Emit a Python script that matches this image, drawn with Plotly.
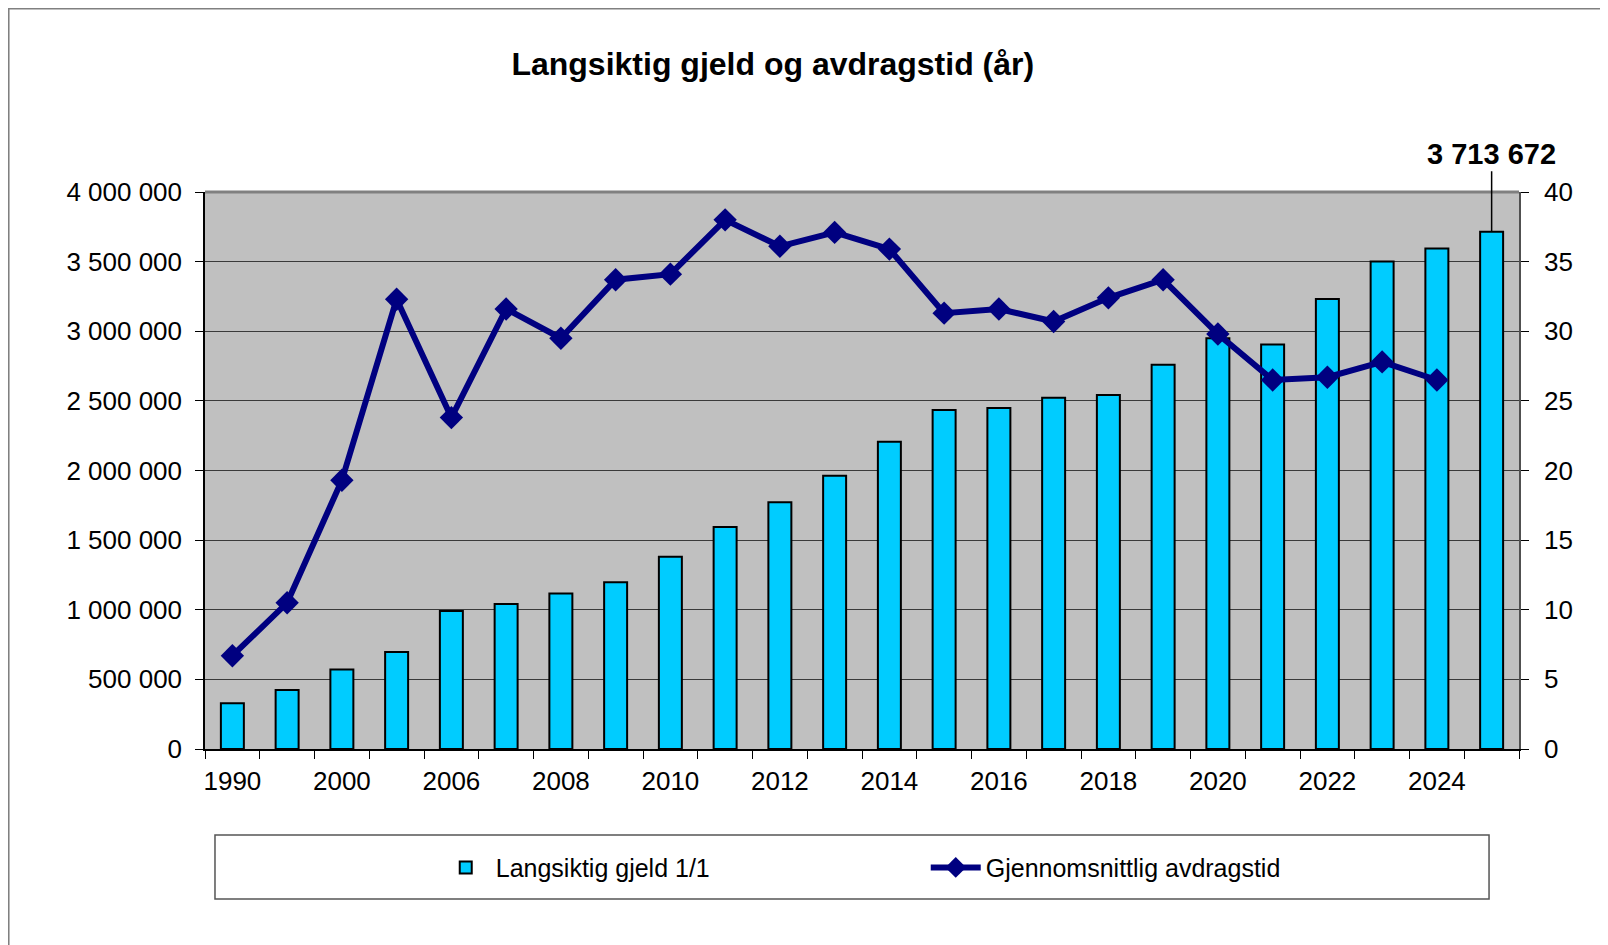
import plotly.graph_objects as go

# kategorier (to av dem har skjult etikett i originalen)
years = ["1990", "1995", "2000", "2005", "2006", "2007", "2008", "2009", "2010",
         "2011", "2012", "2013", "2014", "2015", "2016", "2017", "2018", "2019",
         "2020", "2021", "2022", "2023", "2024", "2025"]

# Langsiktig gjeld 1/1 (kr)
gjeld = [328000, 424000, 571000, 696000, 991000, 1042000, 1116000, 1197000,
         1381000, 1595000, 1772000, 1963000, 2206000, 2435000, 2449000,
         2522000, 2543000, 2759000, 2950000, 2905000, 3231000, 3501000,
         3595000, 3713672]

# Gjennomsnittlig avdragstid (år), ingen verdi for 2025
avdragstid = [6.7, 10.5, 19.3, 32.3, 23.8, 31.6, 29.5, 33.7, 34.1, 38.0, 36.1,
              37.1, 35.9, 31.3, 31.6, 30.7, 32.4, 33.7, 29.8, 26.5, 26.7, 27.8,
              26.5]

# hver andre kategori har etikett
x_labels = [y if i % 2 == 0 else "" for i, y in enumerate(years)]

FONT = "Arial, Liberation Sans, sans-serif"
NAVY = "#000080"

fig = go.Figure()

fig.add_trace(go.Bar(
    x=years,
    y=gjeld,
    name="Langsiktig gjeld 1/1",
    marker=dict(color="#00CCFF", line=dict(color="black", width=2)),
    yaxis="y",
))

fig.add_trace(go.Scatter(
    x=years[:len(avdragstid)],
    y=avdragstid,
    name="Gjennomsnittlig avdragstid",
    mode="lines+markers",
    line=dict(color=NAVY, width=6),
    marker=dict(symbol="diamond", size=18, color=NAVY),
    yaxis="y2",
))

# siste søyle merkes med verdien (kategori-indeks, ellers tolkes "2025" som tall)
last = gjeld[-1]
fig.add_annotation(
    x=len(gjeld) - 1, y=last, xref="x", yref="y",
    text="<b>" + f"{last:,}".replace(",", " ") + "</b>",
    showarrow=True, arrowhead=0, arrowwidth=1.5, arrowcolor="black",
    ax=0, ay=-78,
    font=dict(family=FONT, size=29, color="black"),
)

# ytre ramme, toppkant på plottområdet og legend-boks
fig.add_shape(type="rect", xref="paper", yref="paper",
              x0=-0.1495, x1=1.08, y0=-0.40, y1=1.3294,
              line=dict(color="#808080", width=2), layer="below")
fig.add_shape(type="line", xref="paper", yref="paper",
              x0=0, x1=1, y0=1, y1=1,
              line=dict(color="#808080", width=3))
fig.add_shape(type="rect", xref="paper", yref="paper",
              x0=0.0076, x1=0.9772, y0=-0.2693, y1=-0.1544,
              line=dict(color="#555555", width=1.5))

fig.update_layout(
    width=1600, height=937,
    margin=dict(l=197, r=89, t=184, b=196),
    paper_bgcolor="white",
    plot_bgcolor="#C0C0C0",
    separators=", ",
    font=dict(family=FONT, size=25, color="black"),
    title=dict(text="<b>Langsiktig gjeld og avdragstid (år)</b>",
               font=dict(family=FONT, size=32, color="black"),
               x=0.478, xanchor="center", xref="container",
               y=0.940, yanchor="middle", yref="container"),
    bargap=0.58,
    showlegend=True,
    legend=dict(orientation="h", x=0.1756, xanchor="left",
                y=-0.213, yanchor="middle",
                entrywidth=425, entrywidthmode="pixels",
                itemwidth=50,
                font=dict(family=FONT, size=25, color="black"),
                bgcolor="rgba(0,0,0,0)", borderwidth=0,
                traceorder="normal"),
    xaxis=dict(
        type="category", categoryorder="array", categoryarray=years,
        range=[-0.5, len(years) - 0.5],
        tickvals=years, ticktext=x_labels, tickangle=0,
        tickson="boundaries", ticks="outside", ticklen=8,
        tickcolor="black", tickwidth=1,
        showline=True, linecolor="black", linewidth=1.5,
        showgrid=False, zeroline=False,
        ticklabelstandoff=8,
        tickfont=dict(size=26),
    ),
    xaxis3=dict(
        type="category", categoryorder="array", categoryarray=years,
        range=[-0.5, len(years) - 0.5],
        overlaying="x", anchor="y",
        tickvals=years, ticktext=["" for _ in years],
        tickson="boundaries", ticks="inside", ticklen=8,
        tickcolor="black", tickwidth=1,
        showline=False, showgrid=False, zeroline=False,
    ),
    yaxis=dict(
        range=[0, 4000000], dtick=500000, tickformat=",d",
        ticks="outside", ticklen=8, tickcolor="black",
        showline=True, linecolor="black", linewidth=1.5,
        showgrid=True, gridcolor="#3a3a3a", gridwidth=1,
        zeroline=False, ticklabelstandoff=8,
        tickfont=dict(size=26),
    ),
    yaxis2=dict(
        range=[0, 40], dtick=5, overlaying="y", side="right",
        ticks="outside", ticklen=8, tickcolor="black",
        showline=True, linecolor="#505050", linewidth=1.5,
        showgrid=False, zeroline=False, ticklabelstandoff=10,
        tickfont=dict(size=26),
    ),
)

fig.write_html("out.html")
